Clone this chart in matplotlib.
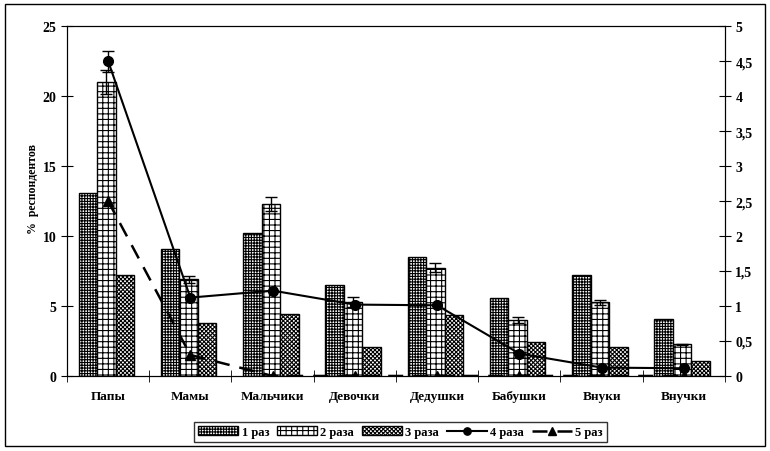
import numpy as np
import matplotlib
matplotlib.use("Agg")
import matplotlib.pyplot as plt
from matplotlib.ticker import FuncFormatter, MultipleLocator
from matplotlib.patches import Rectangle

plt.rcParams['font.family'] = ['Liberation Serif', 'DejaVu Serif']
plt.rcParams['font.weight'] = 'bold'
plt.rcParams['hatch.linewidth'] = 0.8

categories = ["Папы", "Мамы", "Мальчики", "Девочки", "Дедушки", "Бабушки", "Внуки", "Внучки"]
once = [13.1, 9.1, 10.2, 6.5, 8.5, 5.6, 7.25, 4.1]
twice = [21.0, 6.9, 12.3, 5.3, 7.75, 4.0, 5.25, 2.25]
twice_err = [0.85, 0.25, 0.5, 0.35, 0.3, 0.2, 0.15, 0.05]
thrice = [7.25, 3.8, 4.45, 2.1, 4.35, 2.4, 2.1, 1.1]
four = [4.5, 1.12, 1.22, 1.02, 1.01, 0.32, 0.12, 0.11]
four_err = [0.15, 0, 0, 0, 0, 0, 0, 0]
five = [2.5, 0.3, 0, 0, 0, 0, 0, 0]

fig = plt.figure(figsize=(7.7, 4.52), dpi=100)
ax = fig.add_axes([0.087, 0.166, 0.8545, 0.774])
ax2 = ax.twinx()

x = np.arange(len(categories))
w = 0.225
ax.bar(x - w - 0.02, once, w, color='white', edgecolor='black', linewidth=1, hatch='++++++', label='1 раз')
ax.bar(x - 0.02, twice, w, color='white', edgecolor='black', linewidth=1, hatch='+++', label='2 раза')
ax.bar(x + w - 0.02, thrice, w, color='white', edgecolor='black', linewidth=1, hatch='xxxxxxxx', label='3 раза')
ax.errorbar(x - 0.02, twice, yerr=twice_err, fmt='none', ecolor='black', elinewidth=1, capsize=4)

ax2.plot(x, four, '-', color='black', lw=1.5, marker='o', ms=7, label='4 раза')
ax2.errorbar(x[:1], four[:1], yerr=four_err[:1], fmt='none', ecolor='black', elinewidth=1, capsize=4)
ax2.plot(x, five, color='black', lw=1.8, dashes=(6, 4), marker='^', ms=7, label='5 раз')

ax.set_xlim(-0.5, len(categories) - 0.5)
ax.set_ylim(0, 25)
ax2.set_ylim(0, 5)
ax.yaxis.set_major_locator(MultipleLocator(5))
ax2.yaxis.set_major_locator(MultipleLocator(0.5))
ax2.yaxis.set_major_formatter(FuncFormatter(lambda v, p: ('%g' % v).replace('.', ',')))

ax.set_xticks(x)
ax.set_xticklabels(categories, fontsize=9.5, fontweight='bold')
ax.set_xticks(np.arange(len(categories) + 1) - 0.5, minor=True)
ax.tick_params(axis='x', which='major', length=0, pad=10)
ax.tick_params(axis='x', which='minor', direction='inout', length=8)
ax.tick_params(axis='y', direction='inout', length=8, labelsize=10)
ax2.tick_params(axis='y', direction='inout', length=8, labelsize=10)
for t in ax.get_yticklabels() + ax2.get_yticklabels():
    t.set_fontweight('bold')
fig.text(33 / 770, 1 - 189 / 452, "%  респондентов", rotation=90, ha='center', va='center',
         fontsize=8.5, fontweight='bold')

h1, l1 = ax.get_legend_handles_labels()
h2, l2 = ax2.get_legend_handles_labels()
leg = fig.legend(h1 + h2, l1 + l2, loc='center', bbox_to_anchor=(0.52, 0.042), ncol=5,
                 frameon=True, fancybox=False, edgecolor='black', fontsize=9, markerscale=0.75,
                 handlelength=3.2, handletextpad=0.3, columnspacing=0.6, borderpad=0.3)
leg.get_frame().set_linewidth(1)

fig.patches.append(Rectangle((5 / 770, 5 / 452), 760 / 770, 442 / 452, transform=fig.transFigure,
                             fill=False, edgecolor='black', linewidth=1))

fig.savefig("out.png", dpi=100)
